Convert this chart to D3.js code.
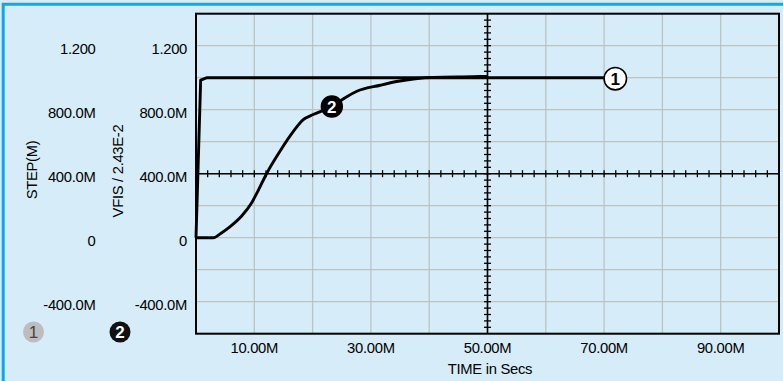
<!DOCTYPE html>
<html>
<head>
<meta charset="utf-8">
<script src="https://cdn.jsdelivr.net/npm/d3@7"></script>
<style>
html,body{margin:0;padding:0;background:#d6edf9;}
svg{display:block;}
text{font-family:"Liberation Sans",Arial,sans-serif;}
</style>
</head>
<body>
<svg id="chart" width="783" height="381"></svg>
<script>
// ---- data (time in M units = milliseconds) ----
const stepTime  = [0, 0.8, 1.9, 70];
const stepValue = [0, 0.985, 1.0, 1.0];
const vfisTime  = [0, 3.0, 4.3, 5.8, 7.8, 9.5, 10.6, 12.1, 14.4, 16.7, 18.4, 20.1, 23.3, 25.8, 27.6, 31.6, 34.4, 37.3, 40.7, 47.5, 50];
const vfisValue = [0, 0.0, 0.028, 0.068, 0.134, 0.215, 0.29, 0.40, 0.54, 0.664, 0.7375, 0.77, 0.82, 0.88, 0.915, 0.953, 0.976, 0.992, 1.002, 1.006, 1.008];
const xTickValues = [10, 30, 50, 70, 90];
const xTickLabels = ["10.00M", "30.00M", "50.00M", "70.00M", "90.00M"];
const yTickValues = [1.2, 0.8, 0.4, 0, -0.4];
const yTickLabels = ["1.200", "800.0M", "400.0M", "0", "-400.0M"];
const xGrid = [10, 20, 30, 40, 50, 60, 70, 80, 90];
const yGrid = [1.2, 1.0, 0.8, 0.6, 0.4, 0.2, 0, -0.2, -0.4];
const markerLabels = ["1", "2"];
const axisTitles = ["STEP(M)", "VFIS / 2.43E-2"];
const xTitle = "TIME in Secs";

const svg = d3.select("#chart");
const L = 196, R = 779, T = 13.7, B = 333.7;
const x = d3.scaleLinear().domain([0, 100]).range([L, R]);
const y = d3.scaleLinear().domain([-0.6, 1.4]).range([B, T]);

// outer frame (blue top/left border)
svg.append("rect").attr("x", 0).attr("y", 0).attr("width", 783).attr("height", 381).attr("fill", "#d6edf9");
svg.append("path").attr("d", "M3.2,381 V4.3 H783").attr("fill", "none").attr("stroke", "#13a6e6").attr("stroke-width", 3);

// grid
const g = svg.append("g");
g.selectAll(".gx").data(xGrid).join("line")
  .attr("x1", d => x(d)).attr("x2", d => x(d)).attr("y1", T).attr("y2", B)
  .attr("stroke", "#bcc3c1").attr("stroke-width", 1.3);
g.selectAll(".gy").data(yGrid).join("line")
  .attr("x1", L).attr("x2", R).attr("y1", d => y(d)).attr("y2", d => y(d))
  .attr("stroke", "#bcc3c1").attr("stroke-width", 1.3);

// central axes with minor ticks
const cx = x(50), cy = y(0.4);
g.append("line").attr("x1", L).attr("x2", R).attr("y1", cy).attr("y2", cy).attr("stroke", "#000").attr("stroke-width", 1.6);
g.append("line").attr("x1", cx).attr("x2", cx).attr("y1", T).attr("y2", B).attr("stroke", "#000").attr("stroke-width", 1.6);
const hTicks = d3.range(2, 100, 2);
g.selectAll(".ht").data(hTicks).join("line")
  .attr("x1", d => x(d)).attr("x2", d => x(d)).attr("y1", cy - 3.5).attr("y2", cy + 3.5)
  .attr("stroke", "#000").attr("stroke-width", 1.3);
const vTicks = d3.range(-14, 35).map(i => i * 0.04).filter(v => v > -0.6 && v < 1.4);
g.selectAll(".vt").data(vTicks).join("line")
  .attr("x1", cx - 3.5).attr("x2", cx + 3.5).attr("y1", d => y(d)).attr("y2", d => y(d))
  .attr("stroke", "#000").attr("stroke-width", 1.3);

// plot frame
svg.append("rect").attr("x", L).attr("y", T).attr("width", R - L).attr("height", B - T)
  .attr("fill", "none").attr("stroke", "#000").attr("stroke-width", 2);

// series
const line1 = d3.line().x(d => x(d[0])).y(d => y(d[1]));
const line2 = d3.line().x(d => x(d[0])).y(d => y(d[1])).curve(d3.curveMonotoneX);
const s1 = stepTime.map((t, i) => [t, stepValue[i]]);
const s2 = vfisTime.map((t, i) => [t, vfisValue[i]]);
svg.append("path").datum(s2).attr("d", line2).attr("fill", "none").attr("stroke", "#000").attr("stroke-width", 2.9).attr("stroke-linejoin", "round");
svg.append("path").datum(s1).attr("d", line1).attr("fill", "none").attr("stroke", "#000").attr("stroke-width", 2.9).attr("stroke-linejoin", "round");

// markers on lines
const r = 11.2;
const last1 = s1[s1.length - 1];
const m1x = x(last1[0]) + r, m1y = y(last1[1]) + 1;
svg.append("circle").attr("cx", m1x).attr("cy", m1y).attr("r", r).attr("fill", "#fff").attr("stroke", "#000").attr("stroke-width", 1.6);
svg.append("text").attr("x", m1x).attr("y", m1y + 6).attr("text-anchor", "middle").attr("font-size", 17).attr("font-weight", "bold").attr("fill", "#000").text(markerLabels[0]);
const mp = s2[12];
const m2x = x(mp[0]), m2y = y(mp[1]);
svg.append("circle").attr("cx", m2x).attr("cy", m2y).attr("r", r).attr("fill", "#000");
svg.append("text").attr("x", m2x).attr("y", m2y + 6).attr("text-anchor", "middle").attr("font-size", 17).attr("font-weight", "bold").attr("fill", "#fff").text(markerLabels[1]);

// y tick labels (two columns)
const fs = 14.8;
[95.5, 187].forEach(xr => {
  svg.selectAll(null).data(yTickValues).join("text")
    .attr("x", xr).attr("y", d => y(d) + 8).attr("text-anchor", "end")
    .attr("font-size", fs).attr("fill", "#000").attr("letter-spacing", -0.3)
    .text((d, i) => yTickLabels[i]);
});
// x tick labels
svg.selectAll(null).data(xTickValues).join("text")
  .attr("x", d => x(d)).attr("y", 352.7).attr("text-anchor", "middle")
  .attr("font-size", fs).attr("fill", "#000").attr("letter-spacing", -0.3)
  .text((d, i) => xTickLabels[i]);
// titles
svg.append("text").attr("x", 490).attr("y", 374).attr("text-anchor", "middle")
  .attr("font-size", fs).attr("fill", "#000").attr("letter-spacing", -0.3).text(xTitle);
svg.append("text").attr("transform", "translate(37,170) rotate(-90)").attr("text-anchor", "middle")
  .attr("font-size", fs).attr("fill", "#000").attr("letter-spacing", -0.3).text(axisTitles[0]);
svg.append("text").attr("transform", "translate(123,171) rotate(-90)").attr("text-anchor", "middle")
  .attr("font-size", fs).attr("fill", "#000").attr("letter-spacing", -0.3).text(axisTitles[1]);

// legend markers
svg.append("circle").attr("cx", 33.5).attr("cy", 332).attr("r", 10.5).attr("fill", "#bdbdbd");
svg.append("text").attr("x", 33.5).attr("y", 338).attr("text-anchor", "middle").attr("font-size", 17).attr("fill", "#444").text(markerLabels[0]);
svg.append("circle").attr("cx", 120).attr("cy", 332).attr("r", 10.5).attr("fill", "#111");
svg.append("text").attr("x", 120).attr("y", 338).attr("text-anchor", "middle").attr("font-size", 17).attr("font-weight", "bold").attr("fill", "#fff").text(markerLabels[1]);
</script>
</body>
</html>
